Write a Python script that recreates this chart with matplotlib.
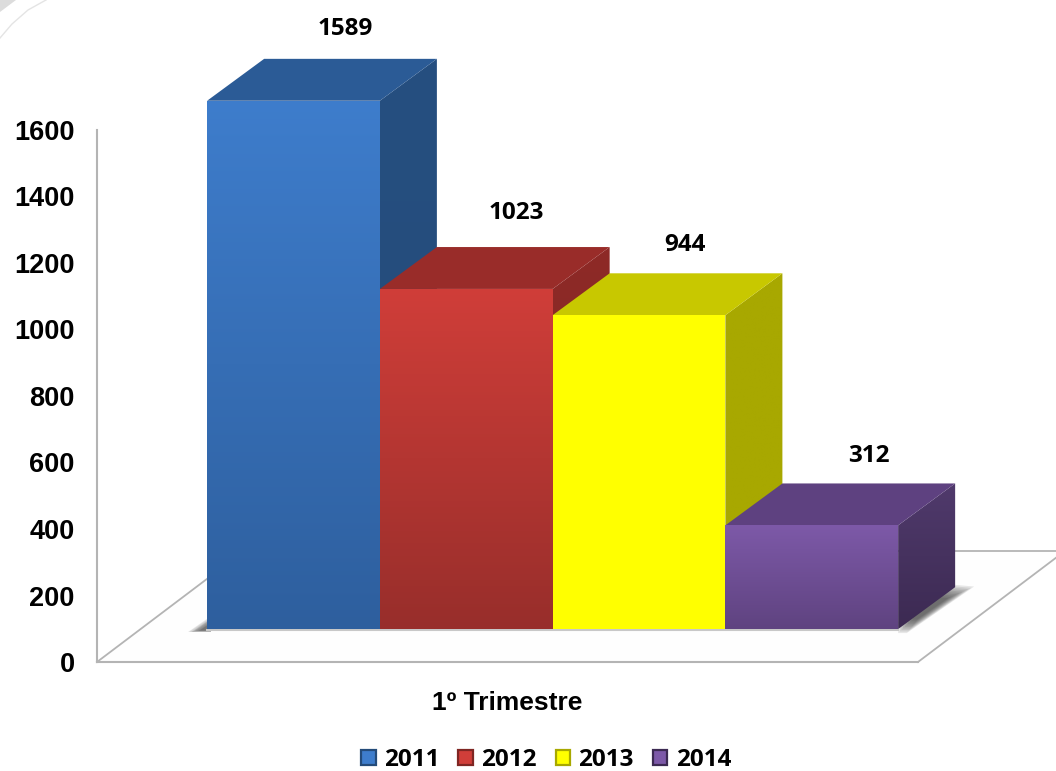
"""Clustered 3D-look column chart, 1st quarter by year, drawn on plain 2D axes."""
import numpy as np
import matplotlib
matplotlib.use("Agg")
import matplotlib.pyplot as plt
from matplotlib.colors import to_rgb
from matplotlib.lines import Line2D
from matplotlib.patches import Patch, Polygon

years = ["2011", "2012", "2013", "2014"]
values = [1589, 1023, 944, 312]
y_ticks = [0, 200, 400, 600, 800, 1000, 1200, 1400, 1600]
x_label = "1º Trimestre"

# front top, front bottom, roof, side top, side bottom
PALETTE = [("#3e7dcc", "#2e5f9e", "#2b5b96", "#264f80", "#244b79"),
           ("#d03e39", "#982e2b", "#992c29", "#8e2a27", "#7f2623"),
           ("#ffff00", "#ffff00", "#c8c800", "#a8a800", "#a8a800"),
           ("#7d59a8", "#5f4380", "#5e4180", "#503a6c", "#3c2a52")]
AXIS_GREY = "#b4b4b4"
TICK_FONT = ["Liberation Sans", "DejaVu Sans"]
VALUE_FONT = ["Open Sans", "DejaVu Sans"]

BASE = 99            # bars stand this far behind the front edge of the floor
BAR_W = 1.0
DEPTH_X, DEPTH_Y = 0.33, 126
FLOOR_X, FLOOR_Y = 0.851, 334
LABEL_X, LABEL_Y = 0.30, 220
# hand nudges for the value labels, points
LABEL_NUDGE = [(0, -1), (-1, 2), (-4, -2), (4, -3)]


def gradient_poly(ax, verts, top, bottom, z):
    """Fill a polygon with a vertical gradient, free to run outside the axes."""
    verts = np.array(verts, dtype=float)
    ramp = np.linspace(to_rgb(top), to_rgb(bottom), 256).reshape(256, 1, 3)
    ext = (verts[:, 0].min(), verts[:, 0].max(), verts[:, 1].min(), verts[:, 1].max())
    im = ax.imshow(ramp, extent=ext, origin="upper", aspect="auto", zorder=z,
                   interpolation="bilinear")
    clip = Polygon(verts, closed=True, fc="none", ec="none", transform=ax.transData, zorder=z)
    ax.add_patch(clip)
    im.set_clip_path(clip)
    im.set_clip_box(ax.figure.bbox)


def soft_shadow(ax, verts, anchor, z, steps=10, alpha=0.1):
    """Stack polygons shrinking towards anchor to fake a blurred drop shadow."""
    verts = np.array(verts, dtype=float)
    anchor = np.array(anchor, dtype=float)
    for k in range(steps):
        s = 1 - k / steps * 0.6
        ax.add_patch(Polygon(anchor + (verts - anchor) * s, closed=True, fc="#303030", ec="none",
                             alpha=alpha, zorder=z, clip_on=False))


fig = plt.figure(figsize=(10.56, 7.71), dpi=100, facecolor="white")
ax = fig.add_axes([97 / 1056, 1 - 662 / 771, 821 / 1056, 532 / 771])
ax.set_facecolor("none")
xlim = (-1.1375, 3.615)
ylim = (0, 1600)

# floor
x0, x1 = xlim
ax.add_patch(Polygon([(x0, 0), (x1, 0), (x1 + FLOOR_X, FLOOR_Y), (x0 + FLOOR_X, FLOOR_Y)],
                     closed=True, fc="#fefefe", ec="none", zorder=1, clip_on=False))
for xs, ys in [((x0, x0 + FLOOR_X), (0, FLOOR_Y)),
               ((x1, x1 + FLOOR_X), (0, FLOOR_Y)),
               ((x0 + FLOOR_X, x1 + FLOOR_X), (FLOOR_Y, FLOOR_Y))]:
    ax.plot(xs, ys, color=AXIS_GREY, lw=1.3, zorder=2, clip_on=False)

# shadows on the floor
left = -BAR_W / 2
right = len(values) - 1 + BAR_W / 2
soft_shadow(ax, [(left - 0.11, BASE - 9), (left + 0.02, BASE - 9), (left + 0.02, BASE + 38)],
            (left + 0.02, BASE), 3)
soft_shadow(ax, [(right, BASE - 12), (right + 0.05, BASE - 12),
                 (right + DEPTH_X + 0.11, BASE + DEPTH_Y + 2),
                 (right + DEPTH_X - 0.02, BASE + DEPTH_Y + 8), (right, BASE + 20)],
            (right + 0.16, BASE + DEPTH_Y / 2), 3, alpha=0.11)
ax.plot([left, right], [BASE - 3, BASE - 3], color="#c8c8c8", lw=1.5, zorder=3, clip_on=False)

# bars, left to right so each one covers the side of the one before it
for i, (val, cols, nudge) in enumerate(zip(values, PALETTE, LABEL_NUDGE)):
    l, r = i - BAR_W / 2, i + BAR_W / 2
    b, t = BASE, BASE + val
    z = 10 + i * 3
    gradient_poly(ax, [(r, b), (r + DEPTH_X, b + DEPTH_Y), (r + DEPTH_X, t + DEPTH_Y), (r, t)],
                  cols[3], cols[4], z)
    ax.add_patch(Polygon([(l, t), (r, t), (r + DEPTH_X, t + DEPTH_Y), (l + DEPTH_X, t + DEPTH_Y)],
                         closed=True, fc=cols[2], ec="none", zorder=z + 1, clip_on=False))
    gradient_poly(ax, [(l, b), (r, b), (r, t), (l, t)], cols[0], cols[1], z + 2)
    ax.annotate(str(val), xy=(i + LABEL_X, t + LABEL_Y), xytext=nudge, textcoords="offset points",
                ha="center", va="center", fontsize=17.5, fontweight="bold", family=VALUE_FONT,
                color="black", zorder=30, annotation_clip=False)

ax.set_xlim(xlim)
ax.set_ylim(ylim)
for side in ("top", "right"):
    ax.spines[side].set_visible(False)
for side in ("left", "bottom"):
    ax.spines[side].set_color(AXIS_GREY)
    ax.spines[side].set_linewidth(1.5)
    ax.spines[side].set_zorder(5)
ax.set_xticks([])
ax.set_yticks(y_ticks)
ax.tick_params(axis="y", length=0, pad=16)
for lab in ax.get_yticklabels():
    lab.set_family(TICK_FONT)
    lab.set_fontweight("bold")
    lab.set_fontsize(19.5)
ax.set_xlabel(x_label, family=TICK_FONT, fontweight="bold", fontsize=19, labelpad=21)

handles = [Patch(fc=c[0], ec=c[4], lw=1.6, label=y) for y, c in zip(years, PALETTE)]
fig.legend(handles=handles, loc="center", bbox_to_anchor=(546 / 1056, 1 - 760 / 771), ncols=4,
           frameon=False, prop={"family": VALUE_FONT, "weight": "bold", "size": 17.5},
           handlelength=0.6, handleheight=0.6, handletextpad=0.34, columnspacing=0.78,
           borderpad=0, labelspacing=0)

# faint rounded page corner at the top left of the source image
fig.add_artist(Line2D(np.array([0, 12, 28, 46]) / 1056, 1 - np.array([38, 24, 10, 0]) / 771,
                      color="#e4e4e4", lw=1))
fig.add_artist(Polygon(np.array([(0, 0), (16, 0), (0, 12)]) / [1056, 771] * [1, -1] + [0, 1],
                       closed=True, fc="#dcdcdc", ec="none", transform=fig.transFigure))

fig.savefig("out.png", dpi=100)
